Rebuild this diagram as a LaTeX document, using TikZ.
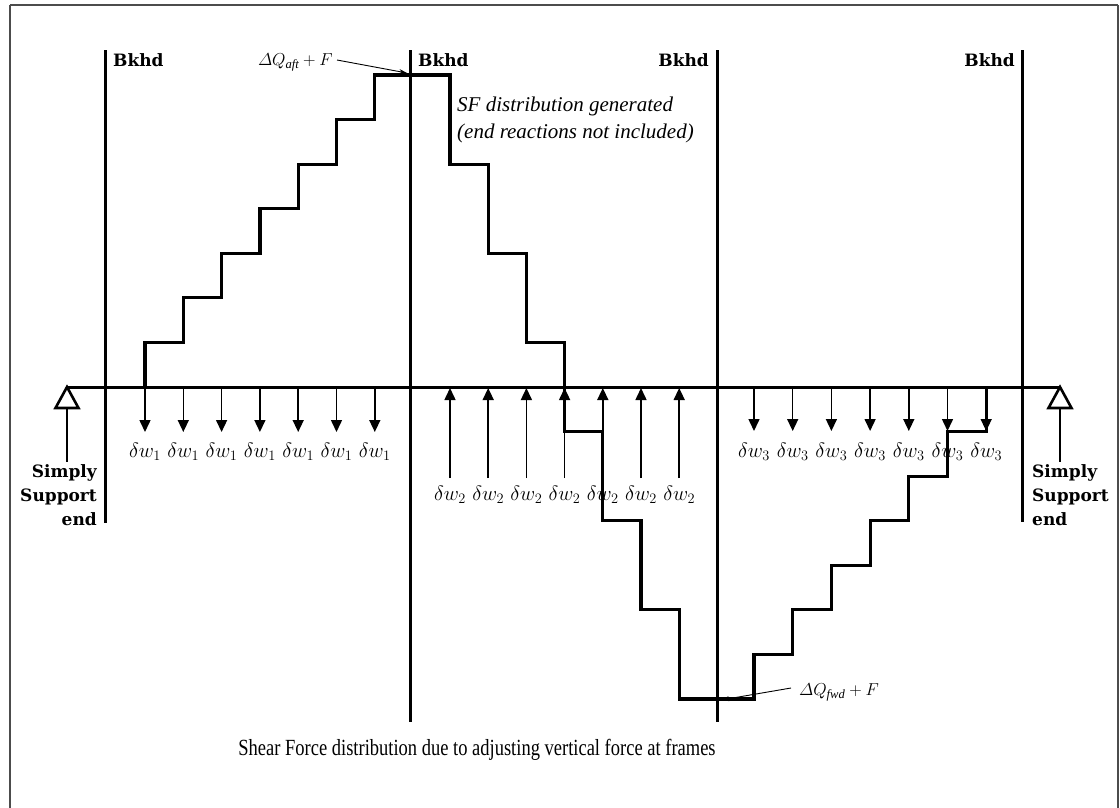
\documentclass[tikz,border=0pt]{standalone}
\usepackage{amsmath}
\usepackage{fontspec}
\setmainfont{Liberation Serif}
\newfontfamily\bkfont{DejaVu Serif}
\usetikzlibrary{arrows.meta}
\begin{document}
\begin{tikzpicture}[x=1pt,y=-1pt,
  frame/.style={draw=black!70,line width=2pt},
  heavy/.style={line width=3pt},
  stair/.style={line width=3.2pt,line join=miter},
  load/.style={line width=1.5pt,-{Triangle[length=12pt,width=11pt]}},
  support/.style={line width=2.6pt,line join=miter},
  bk/.style={font=\bkfont\bfseries\fontsize{17}{20}\selectfont,inner sep=0pt},
  sup/.style={font=\bkfont\bfseries\fontsize{17}{24}\selectfont,inner sep=0pt},
  wlab/.style={font=\fontsize{20}{22}\selectfont,inner sep=0pt},
  qlab/.style={font=\fontsize{18}{20}\selectfont,inner sep=0pt},
  note/.style={font=\itshape\fontsize{21}{27}\selectfont,inner sep=0pt},
  thin arrow/.style={line width=0.9pt,-{Stealth[length=8pt,width=5pt]}}
]
\useasboundingbox (0,0) rectangle (1120,807);
\draw[frame] (10,5) -- (1118,5);
\draw[frame] (10,5) -- (10,815);
\draw[frame] (1118,5) -- (1118,815);

% beam
\coordinate (beamL) at (67,387);
\coordinate (beamR) at (1060,387);
\draw[heavy] (beamL) -- (beamR);

% bulkheads
\coordinate (k1t) at (105,50); \coordinate (k1b) at (105,523);
\coordinate (k2t) at (410,50); \coordinate (k2b) at (410,722);
\coordinate (k3t) at (717,50); \coordinate (k3b) at (717,722);
\coordinate (k4t) at (1022,50); \coordinate (k4b) at (1022,522);
\draw[heavy] (k1t) -- (k1b);
\draw[heavy] (k2t) -- (k2b);
\draw[heavy] (k3t) -- (k3b);
\draw[heavy] (k4t) -- (k4b);

\node[bk,anchor=west] (b1) at (113,60) {Bkhd};
\node[bk,anchor=west] (b2) at (418,60) {Bkhd};
\node[bk,anchor=east] (b3) at (709,60) {Bkhd};
\node[bk,anchor=east] (b4) at (1015,60) {Bkhd};

% supports
\draw[support] (beamL) -- ++(-11.5,21) -- ++(23,0) -- cycle;
\coordinate (sL1) at (67,409); \coordinate (sL2) at (67,462);
\draw[support] (sL1) -- (sL2);
\draw[support] (beamR) -- ++(-11.5,21) -- ++(23,0) -- cycle;
\coordinate (sR1) at (1060,409); \coordinate (sR2) at (1060,462);
\draw[support] (sR1) -- (sR2);
\node[sup,anchor=north east,align=right] (ssL) at (97,464) {Simply\\Support\\end};
\node[sup,anchor=north west,align=left] (ssR) at (1032,464) {Simply\\Support\\end};

% load arrows
\foreach \x in {145,183.3,221.6,259.9,298.2,336.5,374.8}{
  \draw[load] (\x,387) -- (\x,432);
  \node[wlab] at (\x,452) {$\delta w_1$};
}
\foreach \x in {450,488.2,526.4,564.6,602.8,641,679.2}{
  \draw[load] (\x,478) -- (\x,388);
  \node[wlab] at (\x,495) {$\delta w_2$};
}
\foreach \x in {754,792.7,831.4,870.1,908.8,947.5,986.2}{
  \draw[load] (\x,387) -- (\x,431);
  \node[wlab] at (\x,452) {$\delta w_3$};
}

% shear force staircase
\draw[stair] (145,387)
  -- (145,342.43) -- (183.3,342.43) -- (183.3,297.86) -- (221.6,297.86)
  -- (221.6,253.29) -- (259.9,253.29) -- (259.9,208.72) -- (298.2,208.72)
  -- (298.2,164.15) -- (336.5,164.15) -- (336.5,119.58) -- (374.8,119.58)
  -- (374.8,75) -- (450,75)
  -- (450,164.15) -- (488.2,164.15) -- (488.2,253.29) -- (526.4,253.29)
  -- (526.4,342.43) -- (564.6,342.43) -- (564.6,431.57) -- (602.8,431.57)
  -- (602.8,520.71) -- (641,520.71) -- (641,609.85) -- (679.2,609.85)
  -- (679.2,699) -- (754,699)
  -- (754,654.43) -- (792.7,654.43) -- (792.7,609.85) -- (831.4,609.85)
  -- (831.4,565.28) -- (870.1,565.28) -- (870.1,520.71) -- (908.8,520.71)
  -- (908.8,476.14) -- (947.5,476.14) -- (947.5,431.57) -- (986.2,431.57)
  -- (986.2,387);

% annotations
\node[qlab,anchor=east] (qa) at (333,62) {$\varDelta Q_{\mathit{aft}}+F$};
\coordinate (qat) at (407,73);
\draw[thin arrow] (qa.east) ++(4,-2) -- (qat);
\node[qlab,anchor=west] (qf) at (799,692) {$\varDelta Q_{\mathit{fwd}}+F$};
\coordinate (qft) at (721,700);
\draw[thin arrow] (qf.west) ++(-8,-4) -- (qft);

\node[note,anchor=base west] (sf1) at (457,111) {SF distribution generated};
\node[note,anchor=base west] (sf2) at (457,138) {(end reactions not included)};

\node[font=\fontsize{18.5}{22}\selectfont,inner sep=0pt] (cap) at (477,750) {\scalebox{1}[1.25]{Shear Force distribution due to adjusting vertical force at frames}};
\end{tikzpicture}
\end{document}
